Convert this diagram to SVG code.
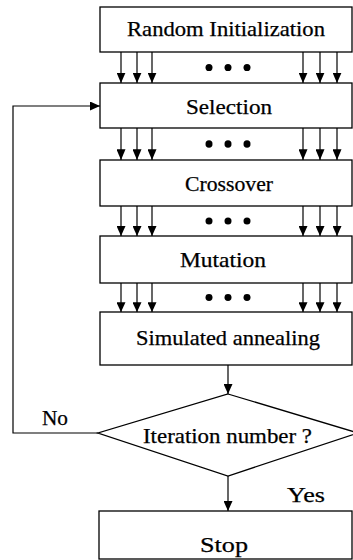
<svg xmlns="http://www.w3.org/2000/svg" width="353" height="560" viewBox="0 0 353 560">
  <defs>
    <marker id="ah" viewBox="0 0 10 10" refX="10" refY="5" markerWidth="10" markerHeight="9" markerUnits="userSpaceOnUse" orient="auto" preserveAspectRatio="none">
      <path d="M0,0 L10,5 L0,10 Z" fill="#000"/>
    </marker>
    <style>
      .box { fill: #fff; stroke: #000; stroke-width: 1.3; }
      .lbl { font-family: "Liberation Serif", "Times New Roman", serif; font-size: 21px; fill: #000; stroke: #000; stroke-width: 0.25; text-anchor: middle; }
      .arr { fill: none; stroke: #000; stroke-width: 1.2; marker-end: url(#ah); }
      .dot { fill: #000; }
    </style>
    <!-- a bundle of six parallel arrows with an ellipsis in the middle -->
    <g id="bundle">
      <line class="arr" x1="121" y1="0" x2="121" y2="30"/>
      <line class="arr" x1="137" y1="0" x2="137" y2="30"/>
      <line class="arr" x1="152" y1="0" x2="152" y2="30"/>
      <line class="arr" x1="303" y1="0" x2="303" y2="30"/>
      <line class="arr" x1="320" y1="0" x2="320" y2="30"/>
      <line class="arr" x1="337" y1="0" x2="337" y2="30"/>
      <circle class="dot" cx="209" cy="15" r="3.5"/>
      <circle class="dot" cx="228" cy="15" r="3.5"/>
      <circle class="dot" cx="247" cy="15" r="3.5"/>
    </g>
  </defs>
  <rect width="353" height="560" fill="#fff"/>

  <g id="connectors">
    <use href="#bundle" transform="translate(0,52) scale(1,1.033)"/>
    <use href="#bundle" transform="translate(0,128) scale(1,1.067)"/>
    <use href="#bundle" transform="translate(0,206)"/>
    <use href="#bundle" transform="translate(0,283) scale(1,0.967)"/>
    <!-- Simulated annealing -> decision -->
    <line class="arr" x1="228" y1="365" x2="228" y2="394"/>
    <!-- decision -> Stop -->
    <line class="arr" x1="228" y1="476" x2="228" y2="511"/>
    <!-- loop back on No -->
    <path class="arr" d="M98,433H13V106H100"/>
    <text class="lbl" x="55" y="425" textLength="26" lengthAdjust="spacingAndGlyphs">No</text>
    <text class="lbl" x="306" y="502" textLength="38" lengthAdjust="spacingAndGlyphs">Yes</text>
  </g>

  <g id="random-init">
    <rect class="box" x="100" y="7" width="252" height="45"/>
    <text class="lbl" x="226" y="36" textLength="198" lengthAdjust="spacingAndGlyphs">Random Initialization</text>
  </g>
  <g id="selection">
    <rect class="box" x="100" y="83" width="252" height="45"/>
    <text class="lbl" x="229" y="114" textLength="86" lengthAdjust="spacingAndGlyphs">Selection</text>
  </g>
  <g id="crossover">
    <rect class="box" x="100" y="160" width="252" height="46"/>
    <text class="lbl" x="229" y="191" textLength="88" lengthAdjust="spacingAndGlyphs">Crossover</text>
  </g>
  <g id="mutation">
    <rect class="box" x="100" y="236" width="252" height="47"/>
    <text class="lbl" x="223" y="267" textLength="86" lengthAdjust="spacingAndGlyphs">Mutation</text>
  </g>
  <g id="annealing">
    <rect class="box" x="100" y="312" width="252" height="53"/>
    <text class="lbl" x="228" y="345" textLength="184" lengthAdjust="spacingAndGlyphs">Simulated annealing</text>
  </g>
  <g id="decision">
    <polygon class="box" points="228,394 358,433 228,476 98,433"/>
    <text class="lbl" x="227.5" y="443" textLength="169" lengthAdjust="spacingAndGlyphs">Iteration number ?</text>
  </g>
  <g id="stop">
    <rect class="box" x="99" y="511" width="253" height="48"/>
    <text class="lbl" x="224" y="552" textLength="48" lengthAdjust="spacingAndGlyphs">Stop</text>
  </g>
</svg>
